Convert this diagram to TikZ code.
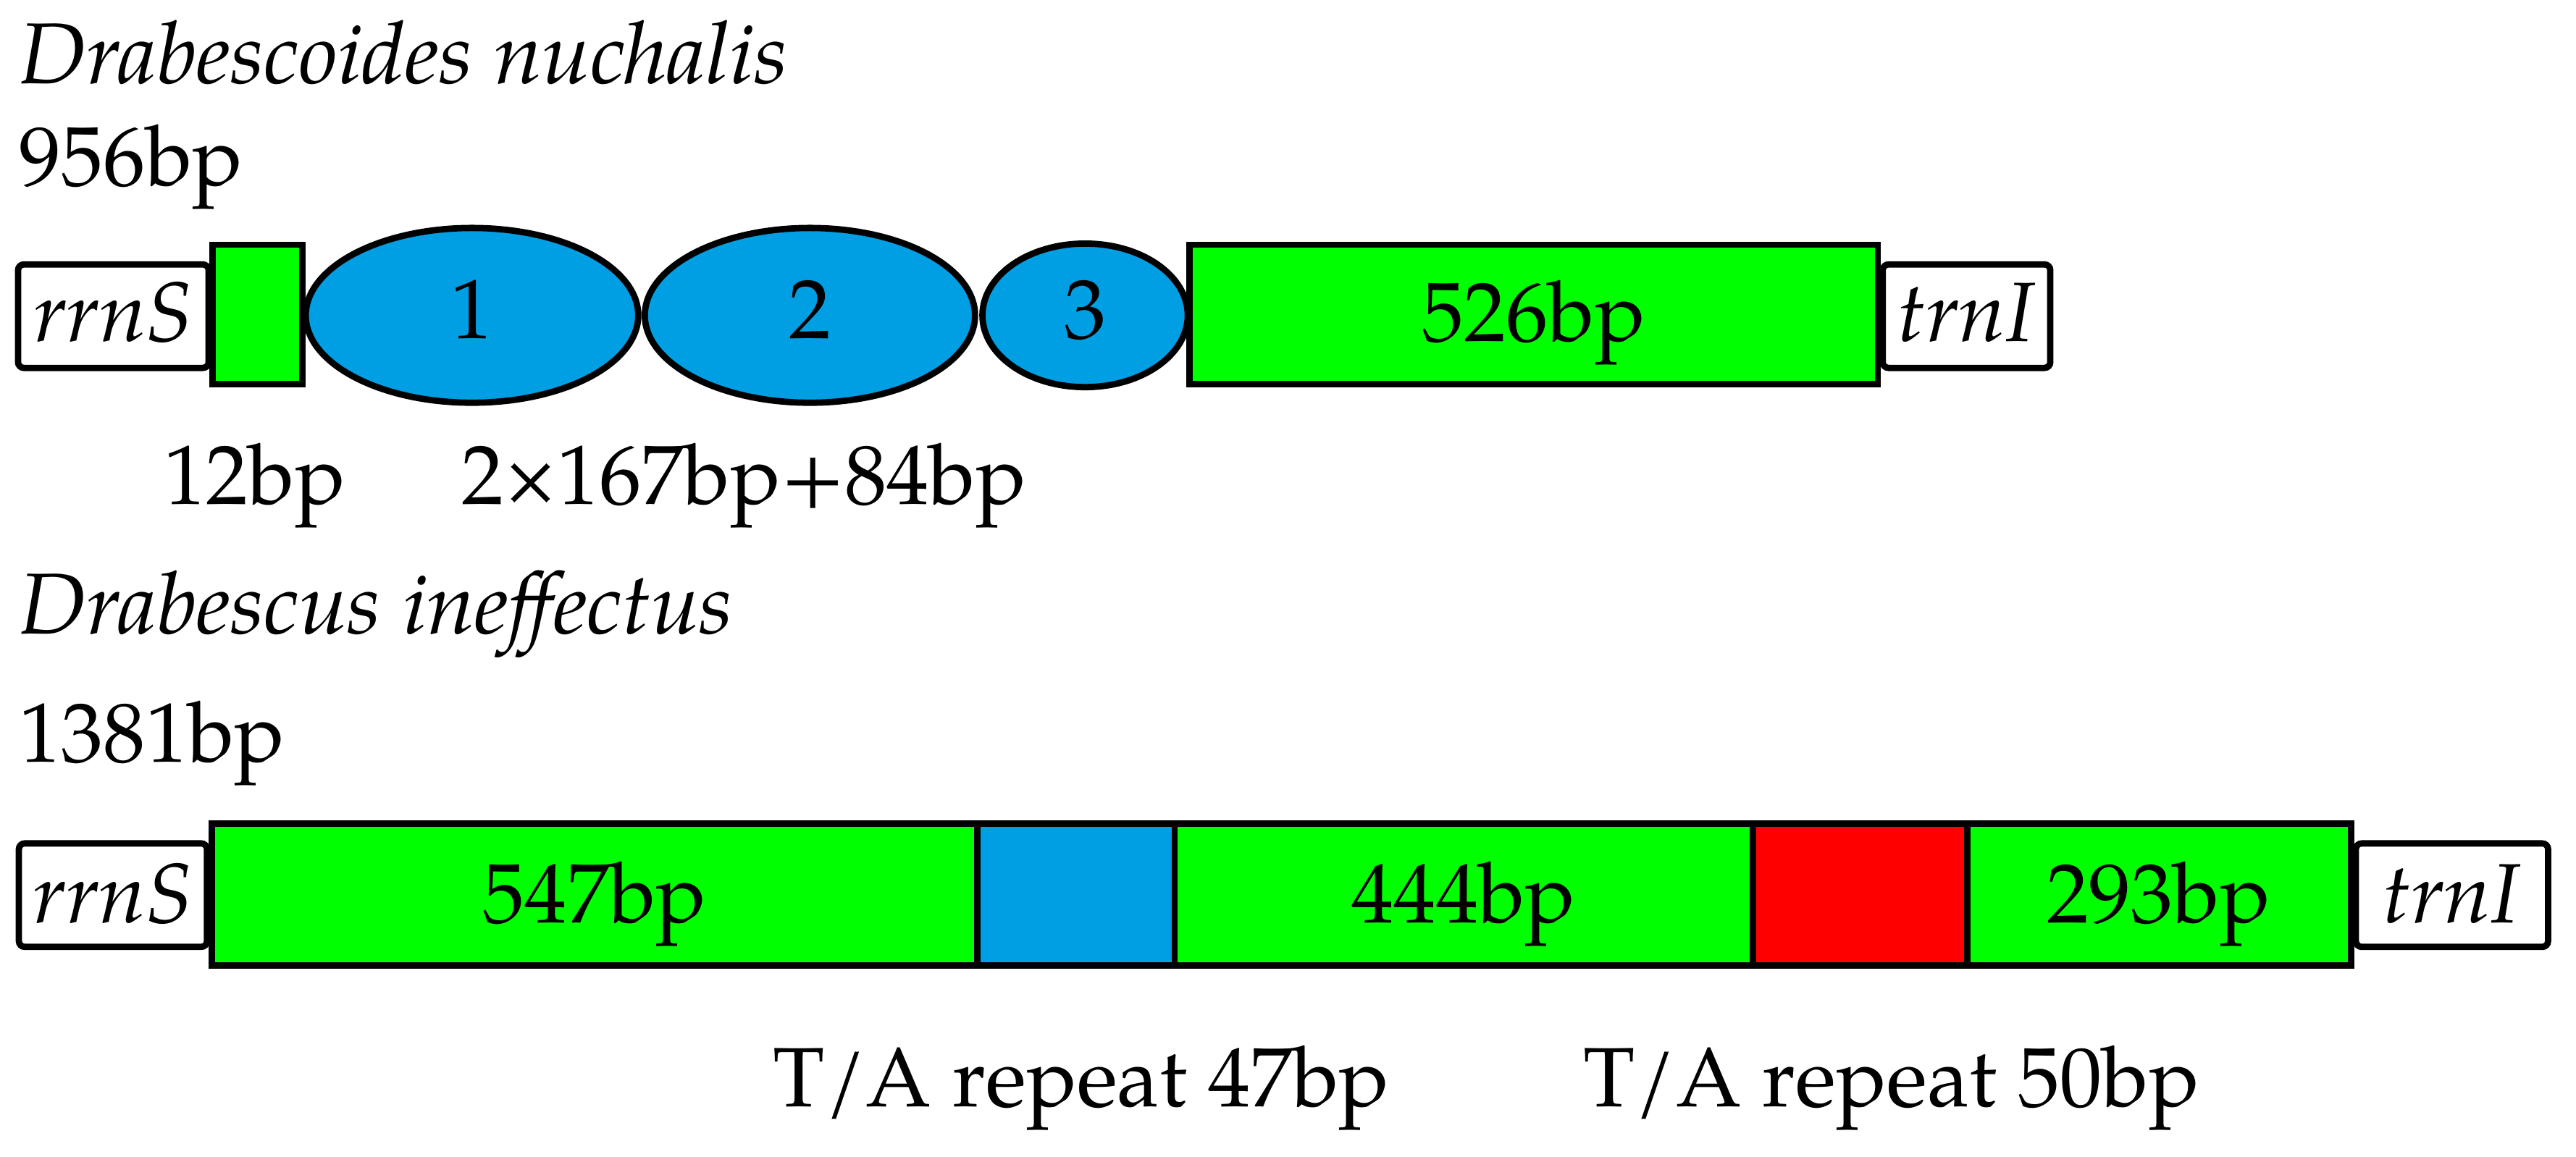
\documentclass[tikz,border=0pt]{standalone}
\usepackage{fontspec}
\setmainfont{TeX Gyre Pagella}

\definecolor{segGreen}{RGB}{0,255,0}
\definecolor{segBlue}{RGB}{0,158,226}
\definecolor{segRed}{RGB}{255,0,0}

\tikzset{
  seg/.style={draw=black, line width=1.1pt},
  gene/.style={draw=black, fill=white, line width=1.1pt, rounded corners=1pt},
  lbl/.style={inner sep=0pt, font=\fontsize{14.6}{17}\selectfont},
  title/.style={lbl, anchor=base west, font=\fontsize{15}{18}\selectfont\itshape},
}

\begin{document}
\begin{tikzpicture}[x=0.1mm, y=-0.1mm]
  \useasboundingbox (0,0) rectangle (1568,704);

  % Drabescoides nuchalis
  \node[title] (nameA) at (11,51) {Drabescoides nuchalis};
  \node[lbl, anchor=base west] (lenA) at (11,113) {956bp};

  \filldraw[gene] (11,161) rectangle (127,224);
  \filldraw[gene] (1146,161) rectangle (1248,224);
  \filldraw[seg, fill=segGreen] (129.5,149) rectangle (184,234);
  \filldraw[seg, fill=segGreen] (724,149) rectangle (1143,234);
  \foreach \c/\rx/\ry in {287.3/101.2/53.2, 493/100.5/53.2, 660.5/62.5/43.7}
    \filldraw[seg, fill=segBlue] (\c,192) ellipse [x radius=\rx, y radius=\ry];

  \node[lbl, anchor=base] (rrnSA) at (69,208) {\textit{rrnS}};
  \node[lbl, anchor=base] (trnIA) at (1197,208) {\textit{trnI}};
  \node[lbl, anchor=base] (repA1) at (287.3,206) {1};
  \node[lbl, anchor=base] (repA2) at (493,206) {2};
  \node[lbl, anchor=base] (repA3) at (660.5,206) {3};
  \node[lbl, anchor=base] (lenA526) at (933.5,208) {526bp};

  \node[lbl, anchor=base] (lenA12) at (155,307) {12bp};
  \node[lbl, anchor=base] (lenArep) at (453,307) {2×167bp+84bp};

  % Drabescus ineffectus
  \node[title] (nameB) at (11,386) {Drabescus ineffectus};
  \node[lbl, anchor=base west] (lenB) at (11,464) {1381bp};

  \filldraw[gene] (11.5,513.5) rectangle (126,576.5);
  \filldraw[gene] (1434,513.5) rectangle (1551,576.5);
  \foreach \a/\b in {129/595, 715/1067, 1197.5/1431}
    \filldraw[seg, fill=segGreen] (\a,501.5) rectangle (\b,588);
  \filldraw[seg, fill=segBlue] (595,501.5) rectangle (715,588);
  \filldraw[seg, fill=segRed] (1067,501.5) rectangle (1197.5,588);

  \node[lbl, anchor=base] (rrnSB) at (68.75,562) {\textit{rrnS}};
  \node[lbl, anchor=base] (trnIB) at (1492.5,562) {\textit{trnI}};
  \foreach \x/\t in {362/547bp, 891/444bp, 1314/293bp}
    \node[lbl, anchor=base] (lenB\t) at (\x,562) {\t};

  \node[lbl, anchor=base west] (taB1) at (470,674) {T/A repeat 47bp};
  \node[lbl, anchor=base west] (taB2) at (963,674) {T/A repeat 50bp};
\end{tikzpicture}
\end{document}
